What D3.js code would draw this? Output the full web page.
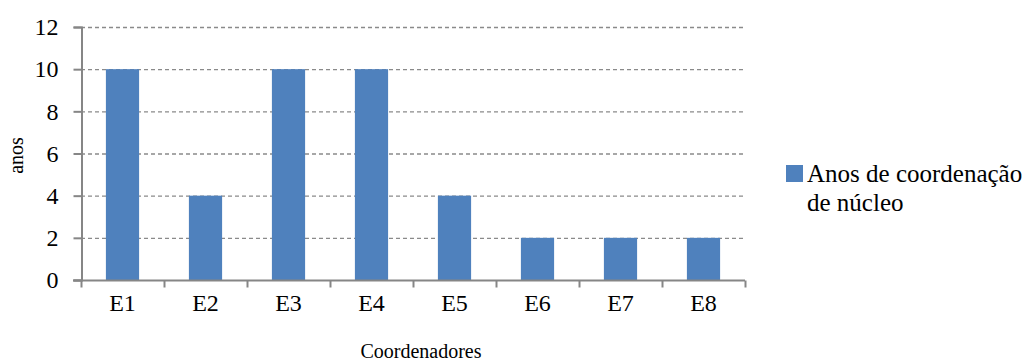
<!DOCTYPE html>
<html>
<head>
<meta charset="utf-8">
<script src="https://cdn.jsdelivr.net/npm/d3@7"></script>
<style>
  html, body { margin: 0; padding: 0; background: #fff; }
  svg text { font-family: "Liberation Serif", "Times New Roman", serif !important; fill: #000; }
</style>
</head>
<body>
<svg id="chart" width="1036" height="362"></svg>
<script>
// Years each coordinator has led a centre
const categories = ["E1", "E2", "E3", "E4", "E5", "E6", "E7", "E8"];
const anos = [10, 4, 10, 10, 4, 2, 2, 2];
const yTicks = [0, 2, 4, 6, 8, 10, 12];
const seriesName = ["Anos de coordenação", "de núcleo"];

const serif = "'Liberation Serif', 'Times New Roman', serif";
const svg = d3.select("#chart");
const plot = { left: 81, right: 745, top: 27, bottom: 280 };

const x = d3.scaleBand().domain(categories).range([plot.left, plot.right]).paddingInner(0).paddingOuter(0);
const y = d3.scaleLinear().domain([0, 12]).range([plot.bottom, plot.top]);

// Dashed horizontal gridlines
svg.append("g")
  .selectAll("line")
  .data(yTicks.filter(d => d > 0))
  .join("line")
  .attr("x1", plot.left).attr("x2", plot.right)
  .attr("y1", d => y(d) + 0.5).attr("y2", d => y(d) + 0.5)
  .attr("stroke", "#8a8a8a").attr("stroke-width", 1.3)
  .attr("stroke-dasharray", "4,3");

// Bars
const barW = x.bandwidth() * 0.4;
svg.append("g")
  .selectAll("rect")
  .data(categories.map((c, i) => ({ c, v: anos[i] })))
  .join("rect")
  .attr("x", d => x(d.c) + (x.bandwidth() - barW) / 2)
  .attr("y", d => y(d.v))
  .attr("width", barW)
  .attr("height", d => y(0) - y(d.v))
  .attr("fill", "#4f81bd");

// Y axis
const yAxis = svg.append("g")
  .attr("transform", `translate(${plot.left + 0.5},0)`)
  .call(d3.axisLeft(y).tickValues(yTicks).tickSize(8).tickPadding(15).tickFormat(d3.format("d")));
yAxis.attr("font-family", serif).attr("font-size", 24);
yAxis.select(".domain").attr("stroke", "#868686").attr("stroke-width", 2);
yAxis.selectAll(".tick line").attr("stroke", "#868686").attr("stroke-width", 2);
yAxis.selectAll(".tick text")
  .style("font-family", serif).style("font-size", "24px")
  .attr("fill", "#000");

// X axis with tick marks on band boundaries
const xAxisG = svg.append("g").attr("transform", `translate(0,${plot.bottom + 0.5})`);
xAxisG.append("line")
  .attr("x1", plot.left - 8).attr("x2", plot.right)
  .attr("stroke", "#868686").attr("stroke-width", 2);
const bounds = categories.map(c => x(c)).concat([plot.right]);
xAxisG.selectAll("line.tk")
  .data(bounds)
  .join("line")
  .attr("class", "tk")
  .attr("x1", d => d + 0.5).attr("x2", d => d + 0.5)
  .attr("y1", 0).attr("y2", 7)
  .attr("stroke", "#868686").attr("stroke-width", 2);
xAxisG.selectAll("text")
  .data(categories)
  .join("text")
  .attr("x", d => x(d) + x.bandwidth() / 2)
  .attr("y", 30)
  .attr("text-anchor", "middle")
  .style("font-family", serif).style("font-size", "24px")
  .text(d => d);

// Axis titles
svg.append("text")
  .attr("transform", `translate(23,${(plot.top + plot.bottom) / 2 + 2}) rotate(-90)`)
  .attr("text-anchor", "middle")
  .style("font-family", serif).style("font-size", "20px")
  .text("anos");
svg.append("text")
  .attr("x", (plot.left + plot.right) / 2 + 8)
  .attr("y", 358)
  .attr("text-anchor", "middle")
  .style("font-family", serif).style("font-size", "20px")
  .text("Coordenadores");

// Legend: swatch plus a two-line label
const legend = svg.append("g");
legend.append("rect")
  .attr("x", 786).attr("y", 165).attr("width", 17).attr("height", 17)
  .attr("fill", "#4f81bd");
legend.selectAll("text")
  .data(seriesName)
  .join("text")
  .attr("x", 807)
  .attr("y", (d, i) => 182 + i * 28.5)
  .style("font-family", serif).style("font-size", "25px")
  .text(d => d);
</script>
</body>
</html>
